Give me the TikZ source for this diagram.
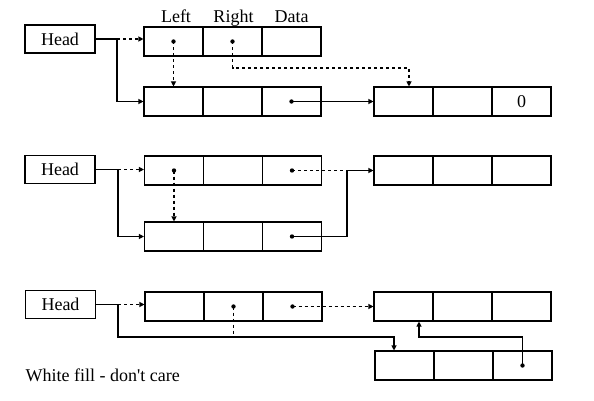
\documentclass[tikz,border=0pt]{standalone}
\usepackage{fontspec}
\setmainfont{Liberation Serif}
\usetikzlibrary{positioning}
\usetikzlibrary{arrows.meta}

\begin{document}
\begin{tikzpicture}[x=1pt, y=-1pt,
                line width=1.1pt,
                font=\fontsize{18}{20}\selectfont,
                cell/.style={draw, minimum width=59pt, minimum height=29pt, inner sep=0pt},
                headbox/.style={draw, minimum width=70pt, minimum height=28pt, inner sep=0pt},
                ptr/.style={-{Triangle[length=5pt,width=5pt]}},
                dptr/.style={ptr, dash pattern=on 3pt off 3pt},
                dsh/.style={dash pattern=on 3pt off 3pt}]
    \useasboundingbox (0,0) rectangle (594,401);
    % first case
    \node[headbox](h1) at (60,39) {Head};
    \node[cell](t1l) at (173.5,41.5) {};
    \node[cell](t1r) at (232.5,41.5) {};
    \node[cell](t1d) at (291.5,41.5) {};
    \node[anchor=base](lleft) at (176,22.5) {Left};
    \node[anchor=base](lright) at (233.5,22.5) {Right};
    \node[anchor=base](ldata) at (291.5,22.5) {Data};
    \node[cell](u1l) at (173.5,101.5) {};
    \node[cell](u1r) at (232.5,101.5) {};
    \node[cell](u1d) at (291.5,101.5) {};
    \node[cell](v1l) at (403.5,101.5) {};
    \node[cell](v1r) at (462.5,101.5) {};
    \node[cell](v1d) at (521.5,101.5) {0};
    \coordinate (j1) at (117,39);
    \coordinate (k1) at (409,68);
    \draw (h1.east) -- (j1);
    \draw[dptr] (j1) -- (j1 -| t1l.west);
    \draw[ptr] (j1) |- (u1l.west);
    \draw[dptr] (t1l.center) -- (u1l.north);
    \draw[dptr] (t1r.center) |- (k1) -- (k1 |- v1l.north);
    \draw[ptr] (u1d.center) -- (v1l.west);
    \foreach \p in {t1l,t1r,u1d} \fill (\p.center) circle (2.2pt);
    % second case
    \node[headbox](h2) at (60,169.5) {Head};
    \node[cell](t2l) at (174,170.5) {};
    \node[cell](t2r) at (233,170.5) {};
    \node[cell](t2d) at (292,170.5) {};
    \node[cell](u2l) at (174,236.5) {};
    \node[cell](u2r) at (233,236.5) {};
    \node[cell](u2d) at (292,236.5) {};
    \node[cell](v2l) at (403.5,170.5) {};
    \node[cell](v2r) at (462.5,170.5) {};
    \node[cell](v2d) at (521.5,170.5) {};
    \coordinate (j2) at (118,169.5);
    \coordinate (k2) at (347,170.5);
    \draw (h2.east) -- (j2);
    \draw[dptr] (j2) -- (j2 -| t2l.west);
    \draw[ptr] (j2) |- (u2l.west);
    \draw[dptr] (t2l.center) -- (u2l.north);
    \draw[dsh] (t2d.center) -- (k2);
    \draw[ptr] (u2d.center) -| (k2) -- (v2l.west);
    \foreach \p in {t2l,t2d,u2d} \fill (\p.center) circle (2.2pt);
    % third case
    \node[headbox](h3) at (60.5,304.5) {Head};
    \node[cell](t3l) at (174.5,306.5) {};
    \node[cell](t3r) at (233.5,306.5) {};
    \node[cell](t3d) at (292.5,306.5) {};
    \node[cell](v3l) at (403.5,306.5) {};
    \node[cell](v3r) at (462.5,306.5) {};
    \node[cell](v3d) at (521.5,306.5) {};
    \node[cell](w3l) at (404.5,365.5) {};
    \node[cell](w3r) at (463.5,365.5) {};
    \node[cell](w3d) at (522.5,365.5) {};
    \coordinate (j3) at (118,304.5);
    \coordinate (m3) at (394,337);
    \coordinate (n3) at (419,337);
    \draw (h3.east) -- (j3);
    \draw[dptr] (j3) -- (j3 -| t3l.west);
    \draw[ptr] (j3) |- (m3) -- (m3 |- w3l.north);
    \draw[dsh] (t3r.center) -- (t3r.center |- m3);
    \draw[dptr] (t3d.center) -- (v3l.west);
    \draw[ptr] (w3d.center) |- (n3) -- (n3 |- v3l.south);
    \foreach \p in {t3r,t3d,w3d} \fill (\p.center) circle (2.2pt);
    \node[anchor=base west, inner sep=0pt](note) at (25,381) {White fill - don\textquotesingle t care};
\end{tikzpicture}
\end{document}
